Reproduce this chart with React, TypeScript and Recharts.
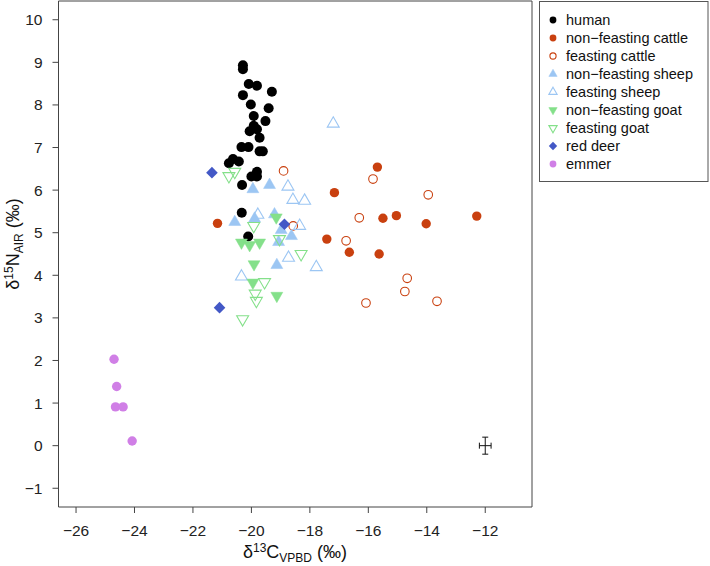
import { ScatterChart, Scatter, XAxis, YAxis, ReferenceArea, ErrorBar } from 'recharts';

// δ13C (x) and δ15N (y) values per group
const humanC = [-20.29, -20.29, -20.09, -19.81, -19.3, -20.29, -20.02, -19.41, -19.92, -19.52, -19.92, -20.06, -19.81, -19.72, -20.34, -20.1, -19.72, -19.61, -20.63, -20.77, -20.43, -19.81, -20.0, -19.81, -20.32, -20.33, -20.11];
const humanN = [8.93, 8.84, 8.49, 8.45, 8.31, 8.23, 8.01, 7.92, 7.74, 7.62, 7.51, 7.38, 7.43, 7.23, 7.01, 7.01, 6.91, 6.91, 6.73, 6.63, 6.67, 6.43, 6.32, 6.32, 6.12, 5.47, 4.91];

const nfCattleC = [-15.69, -17.16, -15.5, -15.04, -14.02, -12.29, -17.42, -16.65, -15.63, -21.16];
const nfCattleN = [6.54, 5.94, 5.34, 5.4, 5.21, 5.39, 4.85, 4.54, 4.5, 5.22];

const fCattleC = [-18.9, -15.84, -13.95, -16.31, -18.57, -16.76, -14.67, -14.75, -13.65, -16.08];
const fCattleN = [6.45, 6.26, 5.89, 5.35, 5.16, 4.81, 3.93, 3.62, 3.39, 3.35];

const nfSheepC = [-19.38, -19.95, -20.57, -19.89, -19.21, -18.98, -18.63, -19.07, -19.13];
const nfSheepN = [6.12, 6.02, 5.25, 5.33, 5.43, 5.06, 4.92, 4.78, 4.24];

const fSheepC = [-17.2, -18.75, -18.58, -18.18, -19.78, -18.35, -18.73, -17.78, -20.34];
const fSheepN = [7.56, 6.08, 5.77, 5.75, 5.42, 5.16, 4.41, 4.19, 3.97];

const nfGoatC = [-19.15, -20.34, -20.06, -19.72, -19.91, -19.95, -19.13];
const nfGoatN = [5.36, 4.77, 4.71, 4.77, 4.26, 3.83, 3.52];

const fGoatC = [-20.77, -20.57, -19.92, -19.04, -18.3, -19.55, -19.87, -19.83, -20.3];
const fGoatN = [6.33, 6.43, 5.16, 4.85, 4.5, 3.84, 3.57, 3.4, 2.97];

const redDeerC = [-21.35, -18.87, -21.09];
const redDeerN = [6.41, 5.2, 3.24];

const emmerC = [-24.7, -24.61, -24.65, -24.39, -24.08];
const emmerN = [2.03, 1.39, 0.91, 0.91, 0.11];

// analytical error cross
const errPoint = [{ x: -12, y: 0, ex: 0.2, ey: 0.2 }];

const xTicks = [-26, -24, -22, -20, -18, -16, -14, -12];
const yTicks = [-1, 0, 1, 2, 3, 4, 5, 6, 7, 8, 9, 10];

const FONT = '"Liberation Sans", Arial, Helvetica, sans-serif';
const AXIS = '#444';

type Kind = 'dot' | 'ring' | 'up' | 'upOpen' | 'down' | 'downOpen' | 'diamond';

const toPoints = (c: number[], n: number[]) => c.map((x, i) => ({ x, y: n[i] }));

const mark = (kind: Kind, color: string, s: number, cx: number, cy: number) => {
  const hw = (s * Math.sqrt(3)) / 2;
  switch (kind) {
    case 'dot':
      return <circle cx={cx} cy={cy} r={s} fill={color} />;
    case 'ring':
      return <circle cx={cx} cy={cy} r={s - 0.5} fill="none" stroke={color} strokeWidth={1.1} />;
    case 'up':
    case 'upOpen':
      return (
        <polygon
          points={`${cx},${cy - s} ${cx + hw},${cy + s / 2} ${cx - hw},${cy + s / 2}`}
          fill={kind === 'up' ? color : 'none'}
          stroke={color}
          strokeWidth={kind === 'up' ? 0.5 : 1.1}
        />
      );
    case 'down':
    case 'downOpen':
      return (
        <polygon
          points={`${cx},${cy + s} ${cx + hw},${cy - s / 2} ${cx - hw},${cy - s / 2}`}
          fill={kind === 'down' ? color : 'none'}
          stroke={color}
          strokeWidth={kind === 'down' ? 0.5 : 1.1}
        />
      );
    case 'diamond':
      return (
        <polygon
          points={`${cx},${cy - s} ${cx + s},${cy} ${cx},${cy + s} ${cx - s},${cy}`}
          fill={color}
        />
      );
  }
};

const series = [
  { name: 'human', data: toPoints(humanC, humanN), kind: 'dot' as Kind, color: '#000000', size: 5, legendSize: 3.4 },
  { name: 'non\u2212feasting cattle', data: toPoints(nfCattleC, nfCattleN), kind: 'dot' as Kind, color: '#c9400f', size: 4.7, legendSize: 3.4 },
  { name: 'feasting cattle', data: toPoints(fCattleC, fCattleN), kind: 'ring' as Kind, color: '#c9400f', size: 4.8, legendSize: 3.6 },
  { name: 'non\u2212feasting sheep', data: toPoints(nfSheepC, nfSheepN), kind: 'up' as Kind, color: '#9cc6f3', size: 6.9, legendSize: 4.8 },
  { name: 'feasting sheep', data: toPoints(fSheepC, fSheepN), kind: 'upOpen' as Kind, color: '#9cc6f3', size: 6.9, legendSize: 4.8 },
  { name: 'non\u2212feasting goat', data: toPoints(nfGoatC, nfGoatN), kind: 'down' as Kind, color: '#84e08a', size: 6.9, legendSize: 4.8 },
  { name: 'feasting goat', data: toPoints(fGoatC, fGoatN), kind: 'downOpen' as Kind, color: '#84e08a', size: 6.9, legendSize: 4.8 },
  { name: 'red deer', data: toPoints(redDeerC, redDeerN), kind: 'diamond' as Kind, color: '#4358c6', size: 5.8, legendSize: 4.2 },
  { name: 'emmer', data: toPoints(emmerC, emmerN), kind: 'dot' as Kind, color: '#d07fe6', size: 4.7, legendSize: 3.4 },
];

const fmt = (v: number) => (v < 0 ? `\u2212${Math.abs(v)}` : `${v}`);

const tickStyle = { fill: '#222', fontSize: 15.5, fontFamily: FONT };

const LegendBox = () => (
  <g>
    <rect x={539.5} y={1.5} width={168.5} height={180} fill="#fff" stroke="#555" strokeWidth={1} />
    {series.map((s, i) => {
      const y = 20 + i * 18;
      return (
        <g key={s.name}>
          {mark(s.kind, s.color, s.legendSize, 553, y)}
          <text x={566} y={y} dy="0.35em" fontSize={14.5} fontFamily={FONT} fill="#111">
            {s.name}
          </text>
        </g>
      );
    })}
  </g>
);

const Titles = () => (
  <g fontFamily={FONT} fill="#111">
    <text x={295} y={558} textAnchor="middle" fontSize={18}>
      <tspan>δ</tspan>
      <tspan fontSize={12} dy={-6}>13</tspan>
      <tspan dy={6}>C</tspan>
      <tspan fontSize={12} dy={4}>VPBD</tspan>
      <tspan dy={-4}> (‰)</tspan>
    </text>
    <text x={19} y={244} textAnchor="middle" fontSize={18} transform="rotate(-90 19 244)">
      <tspan>δ</tspan>
      <tspan fontSize={12} dy={-6}>15</tspan>
      <tspan dy={6}>N</tspan>
      <tspan fontSize={12} dy={4}>AIR</tspan>
      <tspan dy={-4}> (‰)</tspan>
    </text>
  </g>
);

export default function App() {
  return (
    <div style={{ position: 'absolute', left: 0, top: 0, width: 710, height: 566, background: '#fff' }}>
      <ScatterChart width={710} height={566} margin={{ top: 1, right: 178, bottom: 0, left: 0 }}>
        <XAxis
          type="number"
          dataKey="x"
          domain={[-26.6, -10.4]}
          ticks={xTicks}
          tickFormatter={fmt}
          allowDataOverflow
          height={59}
          axisLine={false}
          tickLine={{ stroke: AXIS }}
          tickSize={6}
          tickMargin={12}
          tick={tickStyle}
        />
        <YAxis
          type="number"
          dataKey="y"
          domain={[-1.44, 10.44]}
          ticks={yTicks}
          tickFormatter={fmt}
          allowDataOverflow
          width={58.5}
          axisLine={false}
          tickLine={{ stroke: AXIS }}
          tickSize={6}
          tickMargin={10}
          tick={tickStyle}
        />
        <ReferenceArea x1={-26.6} x2={-10.4} y1={-1.44} y2={10.44} fill="none" stroke={AXIS} strokeWidth={1} />
        {series.map((s) => (
          <Scatter
            key={s.name}
            name={s.name}
            data={s.data}
            isAnimationActive={false}
            shape={(p: any) => mark(s.kind, s.color, s.size, p.cx, p.cy)}
          />
        ))}
        <Scatter data={errPoint} isAnimationActive={false} shape={() => <g />}>
          <ErrorBar dataKey="ex" direction="x" width={3} stroke="#111" strokeWidth={1} isAnimationActive={false} />
          <ErrorBar dataKey="ey" direction="y" width={3} stroke="#111" strokeWidth={1} isAnimationActive={false} />
        </Scatter>
      </ScatterChart>
      <svg width={710} height={566} style={{ position: 'absolute', left: 0, top: 0, pointerEvents: 'none' }}>
        <LegendBox />
        <Titles />
      </svg>
    </div>
  );
}
